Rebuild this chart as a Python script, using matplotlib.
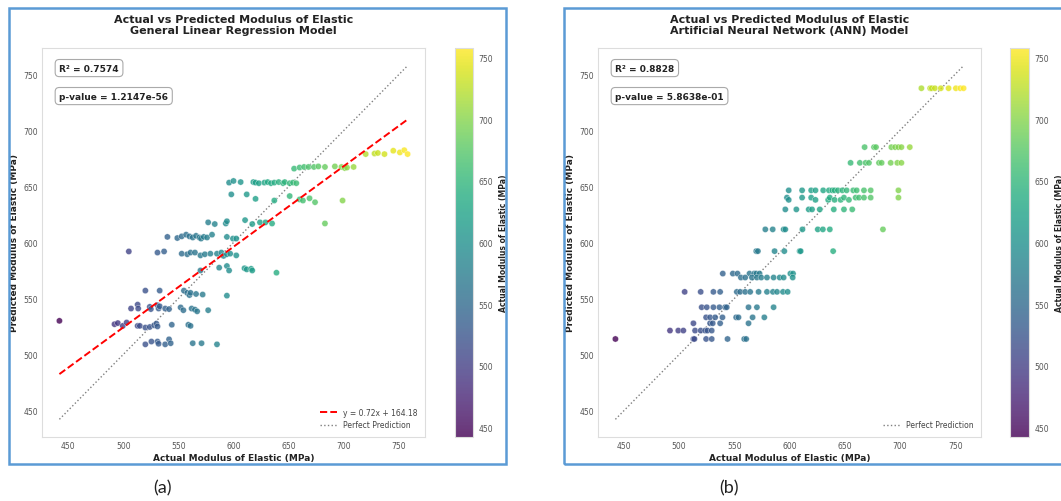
import matplotlib
matplotlib.use("Agg")
import matplotlib.pyplot as plt
from matplotlib.patches import Rectangle
import numpy as np

# ---- data ----
# General Linear Regression panel
actual_glr = [720, 728, 731, 737, 745, 751, 755, 758,
              655, 660, 664, 668, 673, 677, 683, 692, 698, 701, 703, 709,
              596, 600, 606.5, 618, 620, 623, 628, 631, 634, 637, 641, 645, 646.5, 651, 654, 657,
              598, 612, 620, 637, 651, 660, 663, 669, 674, 699,
              577, 583, 593, 594, 610.5, 617, 624, 629, 635, 683,
              540, 549, 553, 557, 560, 563, 566, 569, 570.5, 573, 576, 580.5, 594, 599.5, 602.5,
              505, 531, 537, 553, 558, 561, 565, 570, 574, 579, 585, 589, 591, 594, 597, 602.5,
              570, 587, 594, 596, 610, 612, 616, 617, 639,
              520, 533, 555, 558, 560, 561, 566, 572, 594,
              507, 513, 513.5, 524, 525, 531, 532, 533, 538, 541.5, 552, 554.5, 562, 565, 567, 577,
              442,
              492, 495, 499.5, 503, 513, 515, 520, 524, 528, 530, 531, 544, 559, 561,
              520, 525.5, 531, 532, 538, 541.5, 543, 563, 571, 585]
pred_glr = [679, 679.5, 680, 679, 682, 680.5, 682.5, 679,
            666, 667, 667.5, 667.5, 667.5, 668, 667.5, 668, 667.5, 666.5, 667, 667.5,
            653.5, 655, 654, 654, 653.5, 653, 653.5, 654, 653, 653.5, 654, 653, 654, 653, 653.5, 653,
            643, 643, 639, 637.5, 641.5, 638.5, 637.5, 639.5, 636, 637.5,
            618, 616.5, 617, 619, 620, 616.5, 618, 618, 617, 617,
            605, 604, 605.5, 607, 605.5, 604.5, 606, 604.5, 603.5, 605, 604.5, 607, 605, 603.5, 603.5,
            592, 591, 592, 590, 589.5, 591, 591, 588.5, 589.5, 590, 590, 591, 588, 589.5, 590, 588.5,
            575, 577.5, 579, 575, 577, 576, 576.5, 575, 573,
            557, 557, 557, 555, 553, 555, 554, 553.5, 552.5,
            541, 544.5, 541, 542.5, 540.5, 544, 541, 543, 541, 540.5, 542, 539.5, 541, 540, 538.5, 539.5,
            530,
            527, 528, 525.5, 528.5, 525.5, 525.5, 524, 524.5, 526, 527.5, 525, 526.5, 526.5, 525.5,
            509, 511.5, 511.5, 509.5, 509, 513.5, 510, 510, 510, 509]
glr_slope = 0.72
glr_intercept = 164.18
glr_r2 = "R² = 0.7574"
glr_p = "p-value = 1.2147e-56"

# ANN panel
actual_ann = [719.4, 727.3, 728.8, 731.6, 737, 744, 750.6, 754.6, 757.6,
              668, 676.5, 678.3, 692.2, 695.6, 698.6, 701.3, 708.9,
              655.3, 663.7, 668.9, 671.9, 681, 683.4, 691.6, 697.6, 701.3,
              599.3, 611.4, 619.6, 623.5, 630.5, 635.7, 638.7, 640.8, 643.8, 647.8, 651.7, 657.7, 660.8, 667.4, 673.5, 698.6,
              597.7, 599.3, 611.4, 619.6, 623.5, 635, 636.5, 640.8, 646.3, 649.3, 653.8, 659.9, 662.9, 667.4, 673.5, 698.6,
              596.2, 606.2, 617.4, 620.4, 627.4, 640.1, 649.3, 656.8,
              578.1, 584.8, 594.7, 596.2, 611.7, 625.6, 630.2, 636.5, 684.6,
              569.9, 571.4, 586.5, 595.3, 609.2, 610.1, 639.5,
              539.6, 548.7, 552.9, 563.8, 568, 569.9, 572.9, 600.8, 603.2,
              556, 559.9, 566, 570.5, 574.4, 579.6, 585.6, 591.1, 594.7, 602.9,
              505.1, 519.6, 531.1, 537.2, 552.3, 555.3, 559.9, 564.4, 572, 579.6, 585, 588.7, 594.1, 598.3,
              520.5, 525.1, 531.1, 536.6, 541.7, 543.2, 562.9, 570.5, 585.6,
              524.5, 528.1, 532.7, 539.3, 551.7, 553.8, 566.6, 577.2,
              513, 528.1, 530.5, 537.2, 562.9,
              491.8, 499.3, 503.9, 514.5, 519.6, 523.6, 525.7, 529.6,
              442.4, 513, 513.9, 524.5, 529.6, 543.9, 559, 560.8]
pred_ann = [737.5] * 9 + [685] * 8 + [671] * 9 + [646.5] * 16 + \
           [640, 638, 640, 640, 638, 638, 640, 638, 638, 640, 638, 640, 640, 640, 640, 640] + \
           [629.5] * 8 + [611.7] * 9 + [592.3] * 7 + [572.3] * 9 + [568.8] * 10 + \
           [556] * 14 + [542.3] * 9 + [533.3] * 8 + [528] * 5 + [521.5] * 8 + [514] * 8
ann_r2 = "R² = 0.8828"
ann_p = "p-value = 5.8638e-01"

# ---- figure ----
W, H = 1061, 502
fig = plt.figure(figsize=(W / 100, H / 100), dpi=100)


def px_axes(x0, y0, x1, y1):
    # pixel box (top-left origin) -> figure axes
    return fig.add_axes([x0 / W, 1 - y1 / H, (x1 - x0) / W, (y1 - y0) / H])


vmin = min(min(actual_glr), min(actual_ann))
vmax = max(max(actual_glr), max(actual_ann))
tick_col = '#555555'


def draw_panel(ax, cax, actual, pred, title, r2_txt, p_txt, fit=None):
    actual = np.array(actual)
    pred = np.array(pred)
    sc = ax.scatter(actual, pred, c=actual, cmap='viridis', vmin=vmin, vmax=vmax,
                    s=20, alpha=0.8, edgecolors='white', linewidths=0.3, zorder=3)
    lo, hi = actual.min(), actual.max()
    if fit is not None:
        xs = np.array([lo, hi])
        ax.plot(xs, fit[0] * xs + fit[1], '--', color='red', lw=1.4,
                label=f'y = {fit[0]:.2f}x + {fit[1]:.2f}', zorder=4)
    ax.plot([lo, hi], [lo, hi], ':', color='gray', lw=1.0, label='Perfect Prediction', zorder=2)

    ax.set_title(title, fontsize=8, fontweight='bold', color='#222222', pad=11, linespacing=1.05)
    ax.set_xlabel('Actual Modulus of Elastic (MPa)', fontsize=6.5, fontweight='bold', color='#222222', labelpad=2)
    ax.set_ylabel('Predicted Modulus of Elastic (MPa)', fontsize=6.5, fontweight='bold', color='#222222', labelpad=3)
    ax.tick_params(length=0, labelsize=5.5, labelcolor=tick_col, pad=3)
    for s in ax.spines.values():
        s.set_color('#dddddd')
        s.set_linewidth(0.8)

    box = dict(boxstyle='round,pad=0.45', facecolor='white', edgecolor='#aaaaaa', linewidth=0.8)
    ax.text(0.045, 0.96, r2_txt, transform=ax.transAxes, fontsize=6.5, fontweight='bold',
            color='#222222', va='top', bbox=box)
    ax.text(0.045, 0.888, p_txt, transform=ax.transAxes, fontsize=6.5, fontweight='bold',
            color='#222222', va='top', bbox=box)

    leg = ax.legend(loc='lower right', fontsize=5.5, frameon=False, handlelength=2.2,
                    borderaxespad=0.6)
    for t in leg.get_texts():
        t.set_color('#444444')

    cb = fig.colorbar(sc, cax=cax)
    cb.outline.set_edgecolor('#dddddd')
    cb.outline.set_linewidth(0.8)
    cb.ax.tick_params(length=0, labelsize=5.5, labelcolor=tick_col, pad=4)
    cb.set_label('Actual Modulus of Elastic (MPa)', fontsize=5.5, fontweight='bold',
                 color='#222222', labelpad=4)


ax1 = px_axes(42, 49, 425, 438)
cax1 = px_axes(455, 49, 473, 438)
draw_panel(ax1, cax1, actual_glr, pred_glr,
           'Actual vs Predicted Modulus of Elastic\nGeneral Linear Regression Model',
           glr_r2, glr_p, fit=(glr_slope, glr_intercept))

ax2 = px_axes(598, 49, 981, 438)
cax2 = px_axes(1010, 49, 1029, 438)
draw_panel(ax2, cax2, actual_ann, pred_ann,
           'Actual vs Predicted Modulus of Elastic\nArtificial Neural Network (ANN) Model',
           ann_r2, ann_p)

# blue panel borders
blue = '#5b9bd5'
fig.patches.append(Rectangle((9 / W, 1 - 465 / H), (506 - 9) / W, (465 - 9) / H,
                             transform=fig.transFigure, fill=False, edgecolor=blue, lw=1.8))
fig.patches.append(Rectangle((564 / W, 1 - 465 / H), (1070 - 564) / W, (465 - 9) / H,
                             transform=fig.transFigure, fill=False, edgecolor=blue, lw=1.8))

# sub-figure captions
fig.text(162 / W, 1 - 488 / H, '(a)', fontsize=13, family='Lato', ha='center', va='center', color='#222222')
fig.text(729 / W, 1 - 488 / H, '(b)', fontsize=13, family='Lato', ha='center', va='center', color='#222222')

fig.savefig('out.png', dpi=100)
